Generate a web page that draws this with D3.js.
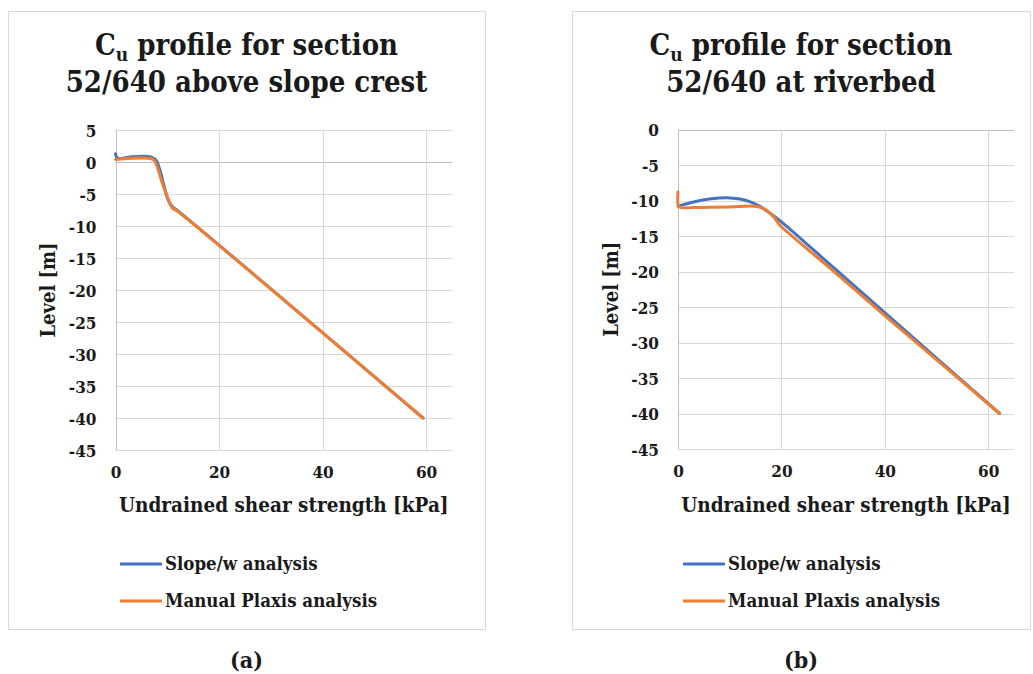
<!DOCTYPE html>
<html><head><meta charset="utf-8">
<script src="https://cdn.jsdelivr.net/npm/d3@7"></script>
<style>
body{margin:0;background:#fff;}
svg text{font-family:"DejaVu Serif Condensed","DejaVu Serif",serif;font-stretch:condensed;font-weight:bold;fill:#1a1a1a;}
</style></head><body>
<svg id="c" width="1033" height="674"></svg>
<script>
// ---- data ----
const xTicks = [0, 20, 40, 60];
const yTicksA = [5, 0, -5, -10, -15, -20, -25, -30, -35, -40, -45];
const yTicksB = [0, -5, -10, -15, -20, -25, -30, -35, -40, -45];
const seriesNames = ["Slope/w analysis", "Manual Plaxis analysis"];
const titlesA = ["profile for section", "52/640 above slope crest"];
const titlesB = ["profile for section", "52/640 at riverbed"];
const captions = ["(a)", "(b)"];
const xTitle = "Undrained shear strength [kPa]";
const yTitle = "Level [m]";

// panel (a)
const aSlopeCu  = [0, 0.4, 2.5, 5, 6.8, 7.8, 8.6, 9.4, 10.2, 11, 12, 59.4];
const aSlopeLvl = [1.3, 0.6, 0.75, 0.9, 0.8, 0.3, -1.3, -3.8, -6.0, -7.0, -7.6, -40];
const aPlaxCu   = [0, 7.3, 8.0, 9.0, 10.0, 10.9, 12, 59.4];
const aPlaxLvl  = [0.4, 0.4, -0.6, -3.2, -5.4, -7.1, -7.7, -40];

// panel (b)
const bSlopeCu  = [0, 3, 6, 9.5, 12, 14, 16, 18, 20, 30, 40, 50, 62.2];
const bSlopeLvl = [-10.8, -10.2, -9.8, -9.6, -9.8, -10.2, -10.9, -11.9, -13.0, -19.4, -25.8, -32.2, -40];
const bPlaxCu   = [0, 0.1, 0.6, 3, 6, 10, 15, 17, 18.5, 19.5, 20, 30, 40, 50, 62.2];
const bPlaxLvl  = [-8.8, -10.8, -11.0, -11.0, -10.95, -10.9, -10.8, -11.3, -12.3, -13.3, -13.7, -19.9, -26.2, -32.4, -40];

const colors = ["#4472C4", "#ED7D31"];

const svg = d3.select("#c");

function panel(cfg){
  const g = svg.append("g");
  // border
  g.append("rect").attr("x", cfg.box[0]+0.5).attr("y", cfg.box[1]+0.5)
    .attr("width", cfg.box[2]-cfg.box[0]).attr("height", cfg.box[3]-cfg.box[1])
    .attr("fill", "none").attr("stroke", "#d9d9d9").attr("stroke-width", 1);
  const cx = (cfg.box[0]+cfg.box[2])/2;
  // title
  const t1 = g.append("text").attr("x", cx).attr("y", 55).attr("text-anchor", "middle").style("font-size", "29px");
  t1.append("tspan").text("C");
  t1.append("tspan").attr("dy", 6).style("font-size", "19px").text("u");
  t1.append("tspan").attr("dy", -6).text(" " + cfg.titles[0]);
  g.append("text").attr("x", cx).attr("y", 92).attr("text-anchor", "middle").style("font-size", "29px").text(cfg.titles[1]);

  const x = d3.scaleLinear().domain([0, 65]).range([cfg.plot[0], cfg.plot[2]]);
  const y = d3.scaleLinear().domain(cfg.ydom).range([cfg.plot[1], cfg.plot[3]]);

  // gridlines
  g.append("g").selectAll("line").data(cfg.yTicks).join("line")
    .attr("x1", cfg.plot[0]).attr("x2", cfg.plot[2])
    .attr("y1", d => Math.round(y(d))+0.5).attr("y2", d => Math.round(y(d))+0.5)
    .attr("stroke", d => d === 0 ? "#bfbfbf" : "#d9d9d9").attr("stroke-width", 1);
  g.append("g").selectAll("line").data(xTicks).join("line")
    .attr("y1", cfg.plot[1]).attr("y2", cfg.plot[3])
    .attr("x1", d => Math.round(x(d))+0.5).attr("x2", d => Math.round(x(d))+0.5)
    .attr("stroke", d => d === 0 ? "#bfbfbf" : "#d9d9d9").attr("stroke-width", 1);

  const fmt = d => String(d);
  // axes (labels only)
  const ya = g.append("g").attr("transform", `translate(${cfg.plot[0]-19},0)`)
    .call(d3.axisLeft(y).tickValues(cfg.yTicks).tickSize(0).tickPadding(0).tickFormat(fmt));
  ya.select(".domain").remove();
  ya.selectAll("text").style("font-size", "17px").attr("dy", "0.36em");
  const xa = g.append("g").attr("transform", `translate(0,${cfg.plot[3]})`)
    .call(d3.axisBottom(x).tickValues(xTicks).tickSize(0).tickPadding(0).tickFormat(fmt));
  xa.select(".domain").remove();
  xa.selectAll("text").style("font-size", "17px").attr("dy", null).attr("y", 28);
  svg.selectAll(".tick text").attr("fill", "#1a1a1a");
  svg.selectAll(".tick").attr("font-family", null);

  // axis titles
  g.append("text").attr("x", (cfg.plot[0]+cfg.plot[2])/2).attr("y", 512)
    .attr("text-anchor", "middle").style("font-size", "20.5px").text(xTitle);
  g.append("text").attr("transform", `translate(${cfg.yTitleX},${(cfg.plot[1]+cfg.plot[3])/2}) rotate(-90)`)
    .attr("text-anchor", "middle").style("font-size", "20px").text(yTitle);

  // lines
  const line = d3.line().x(d => x(d[0])).y(d => y(d[1])).curve(d3.curveCatmullRom.alpha(0.5));
  cfg.series.forEach((s, i) => {
    const pts = s[0].map((v, k) => [v, s[1][k]]);
    g.append("path").attr("d", line(pts)).attr("fill", "none")
      .attr("stroke", colors[i]).attr("stroke-width", 3).attr("stroke-linejoin", "round").attr("stroke-linecap", "round");
  });

  // legend
  seriesNames.forEach((n, i) => {
    const ly = 564 + i*37;
    g.append("line").attr("x1", cfg.legX).attr("x2", cfg.legX+42).attr("y1", ly).attr("y2", ly)
      .attr("stroke", colors[i]).attr("stroke-width", 3);
    g.append("text").attr("x", cfg.legX+45).attr("y", ly+6).style("font-size", "18.5px").text(n);
  });

  // caption
  svg.append("text").attr("x", cx).attr("y", 668).attr("text-anchor", "middle").style("font-size", "23px").text(cfg.caption);
}

panel({box:[8,11,485,629], plot:[115.5,130,452,450], ydom:[5,-45], yTicks:yTicksA, titles:titlesA,
  yTitleX:55, legX:120, caption:captions[0],
  series:[[aSlopeCu,aSlopeLvl],[aPlaxCu,aPlaxLvl]]});
panel({box:[572,11,1030,629], plot:[678,129.5,1014,449], ydom:[0,-45], yTicks:yTicksB, titles:titlesB,
  yTitleX:618, legX:683, caption:captions[1],
  series:[[bSlopeCu,bSlopeLvl],[bPlaxCu,bPlaxLvl]]});
</script>
</body></html>
